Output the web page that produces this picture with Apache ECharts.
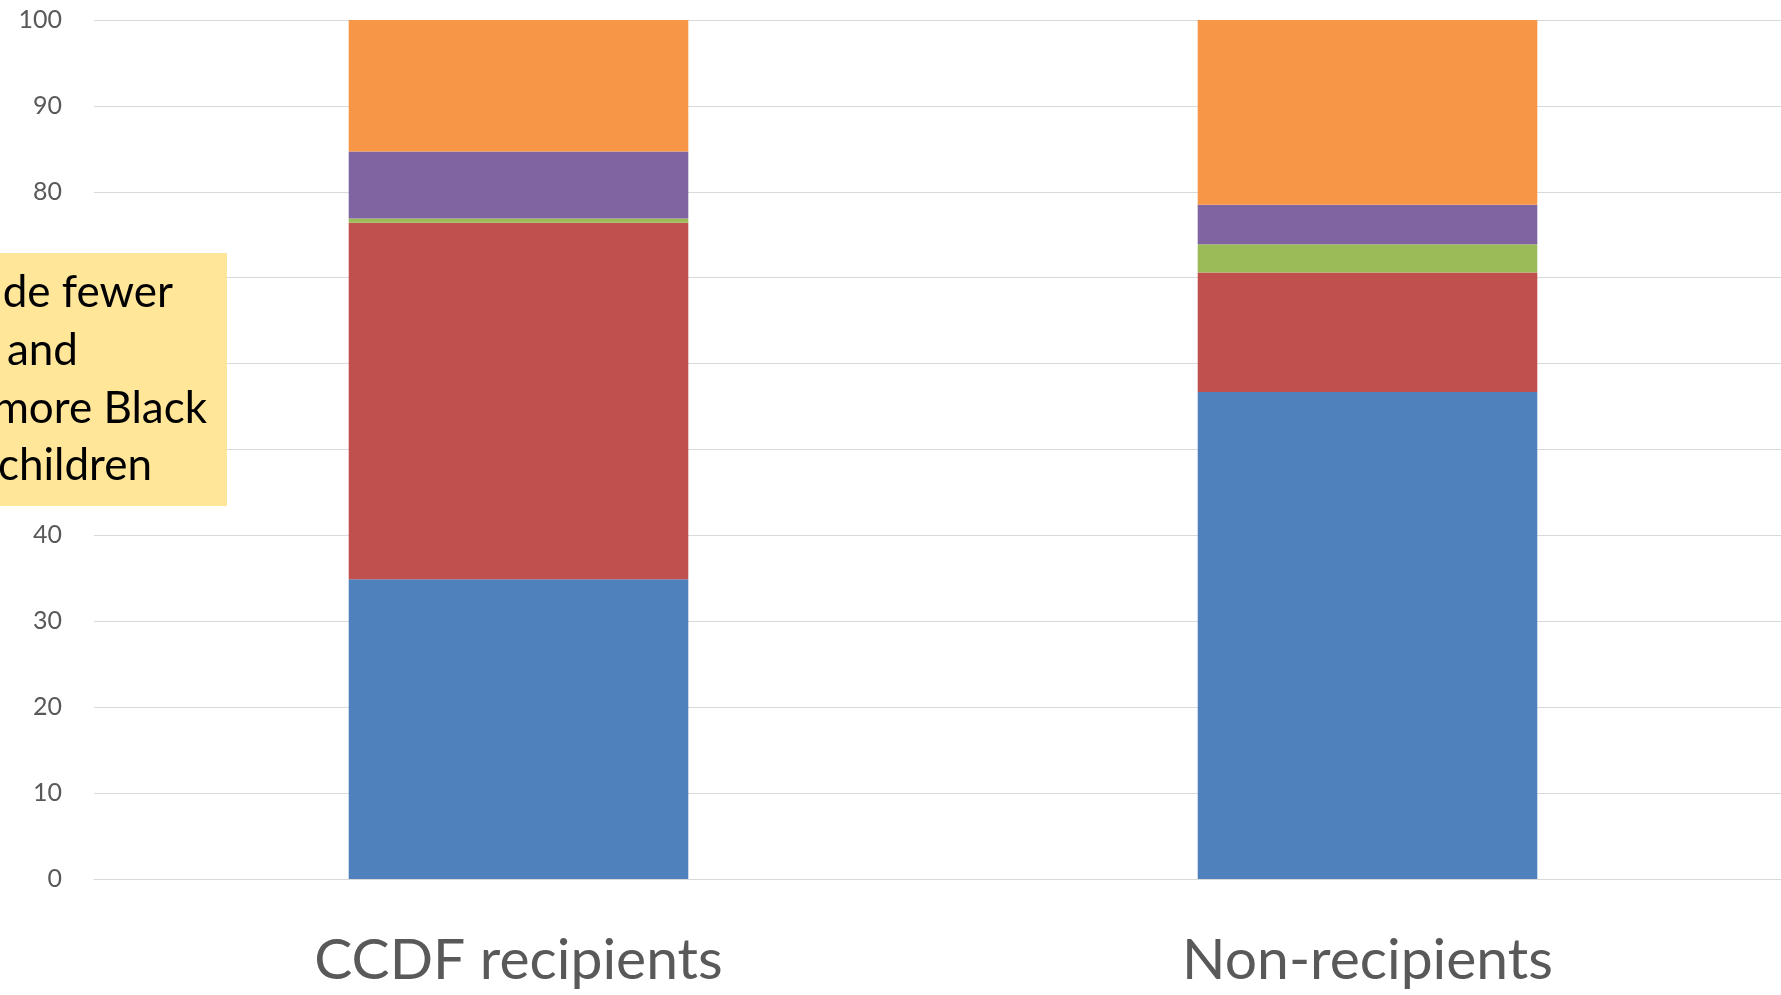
<!DOCTYPE html>
<html>
<head>
<meta charset="utf-8">
<title>Children by race and ethnicity</title>
<script src="https://cdn.jsdelivr.net/npm/echarts@6/dist/echarts.min.js"></script>
<style>
  html, body { margin: 0; padding: 0; background: #ffffff; overflow: hidden; }
  /* the plot runs a little past the right edge of the page */
  #chart { width: 1792px; height: 995px; }
</style>
</head>
<body>
<div id="chart"></div>
<script>
// Groups along the x axis
const categories = ['CCDF recipients', 'Non-recipients'];

// Percent of children in each group, stacked bottom to top
const whiteShare    = [34.9, 56.7];
const blackShare    = [41.5, 13.9];
const asianShare    = [0.5, 3.3];
const otherShare    = [7.8, 4.6];
const hispanicShare = [15.3, 21.5];

// Y axis tick labels
const yTicks = [0, 10, 20, 30, 40, 50, 60, 70, 80, 90, 100];

// Callout text, one entry per line
const noteLines = ['include fewer', 'White and', 'more Black', 'children'];

const FONT = 'Lato, "Open Sans", "Noto Sans", sans-serif';
const GREY = '#595959';

const chart = echarts.init(document.getElementById('chart'), null, { renderer: 'canvas' });

function barSeries(name, data, color) {
  return {
    name: name,
    type: 'bar',
    stack: 'total',
    barWidth: '40%',
    data: data,
    itemStyle: { color: color },
    emphasis: { disabled: true }
  };
}

// right edge and top of each callout line
const noteRight = [173, 78, 207, 152];
const noteTop = [271, 329, 387, 444];

const noteGraphics = [{
  type: 'rect',
  shape: { x: -10, y: 253, width: 237, height: 253 },
  style: { fill: '#FFE699' },
  z: 10
}].concat(noteLines.map(function (line, i) {
  return {
    type: 'text',
    x: noteRight[i],
    y: noteTop[i],
    style: {
      text: line,
      font: '44px ' + FONT,
      fill: '#000000',
      align: 'right',
      verticalAlign: 'top'
    },
    z: 11
  };
}));

chart.setOption({
  animation: false,
  backgroundColor: '#ffffff',
  grid: { left: 94, top: 20, right: 0, height: 859, containLabel: false },
  xAxis: {
    type: 'category',
    data: categories,
    axisLine: { show: true, lineStyle: { color: '#D9D9D9', width: 1 } },
    axisTick: { show: false },
    axisLabel: { color: GREY, fontSize: 57, fontFamily: FONT, margin: 53 }
  },
  yAxis: {
    type: 'value',
    min: yTicks[0],
    max: yTicks[yTicks.length - 1],
    interval: yTicks[1] - yTicks[0],
    axisLine: { show: false },
    axisTick: { show: false },
    splitLine: { lineStyle: { color: '#D9D9D9', width: 1 } },
    axisLabel: { color: GREY, fontSize: 25, fontFamily: FONT, margin: 32 }
  },
  series: [
    barSeries('White', whiteShare, '#4F81BD'),
    barSeries('Black', blackShare, '#C0504D'),
    barSeries('Asian', asianShare, '#9BBB59'),
    barSeries('Other', otherShare, '#8064A2'),
    barSeries('Hispanic', hispanicShare, '#F79646')
  ],
  graphic: noteGraphics
});
</script>
</body>
</html>
